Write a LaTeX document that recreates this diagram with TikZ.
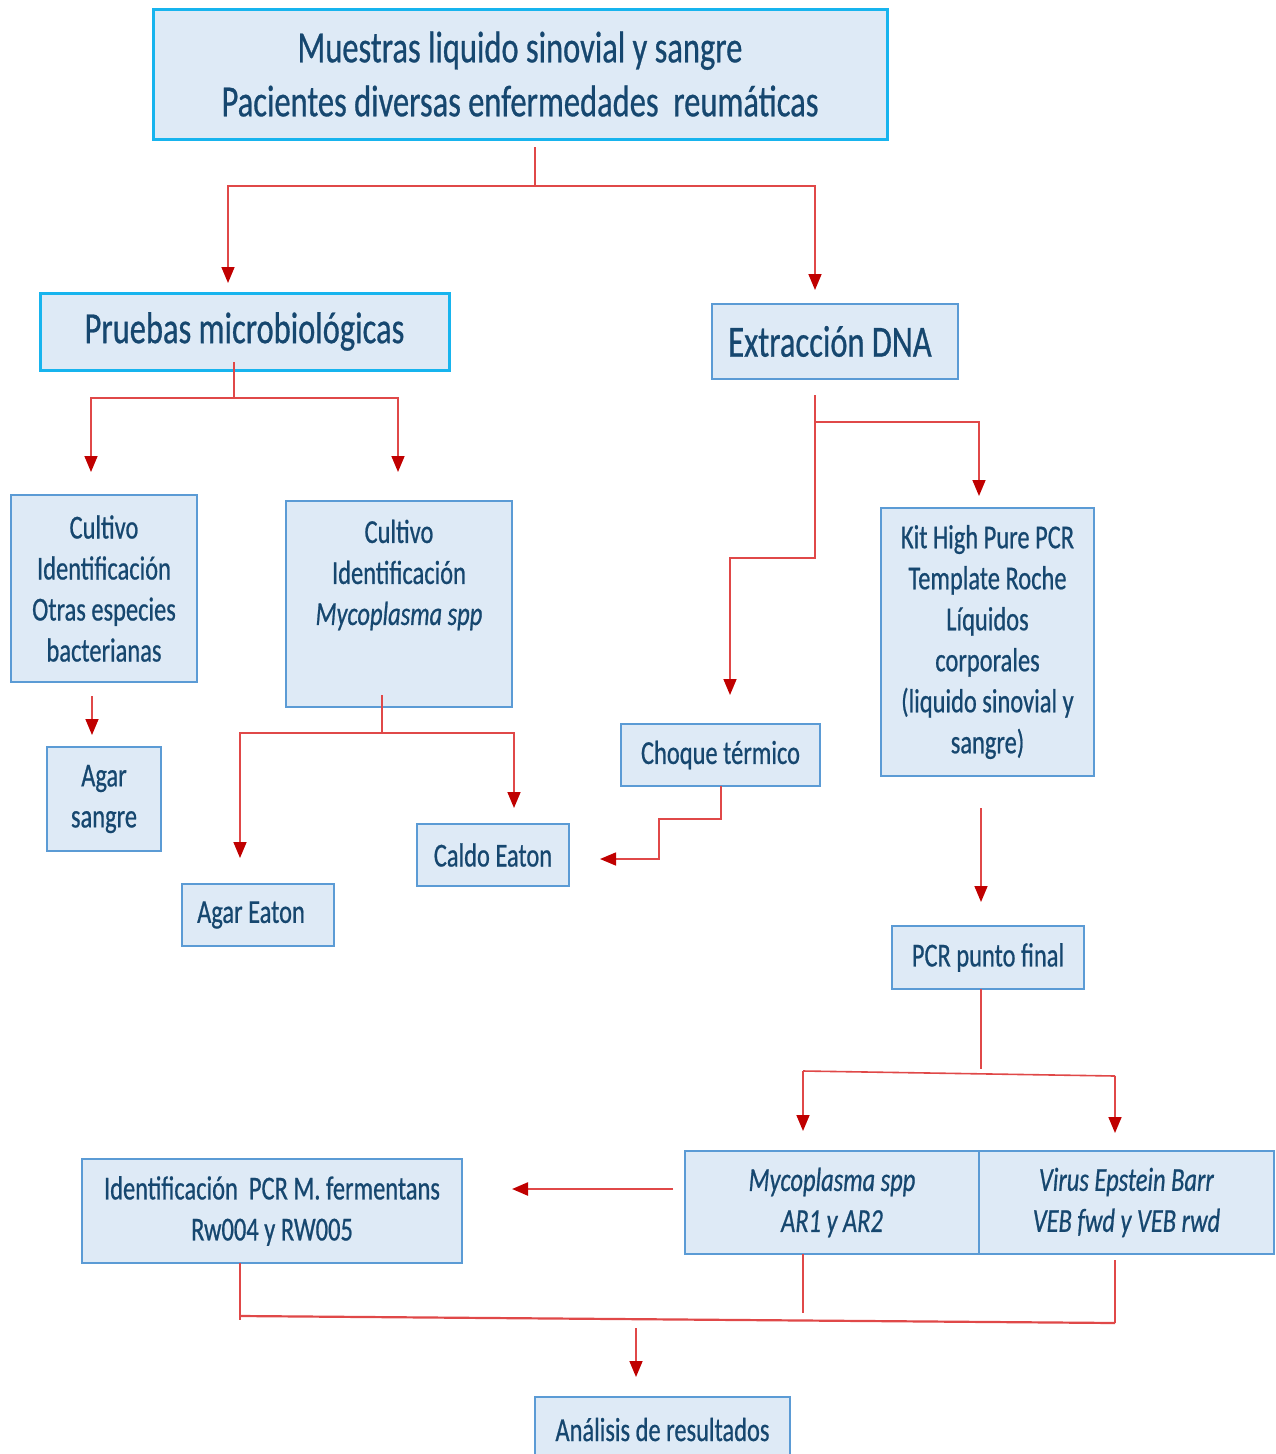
\documentclass[tikz,border=0pt]{standalone}
\usepackage{fontspec}
\setmainfont[FakeStretch=0.73,FakeBold=0.6]{Carlito}
\usetikzlibrary{arrows.meta}
\definecolor{txtc}{HTML}{16476F}
\definecolor{bfill}{HTML}{DEEAF6}
\definecolor{bbord}{HTML}{5B9BD5}
\definecolor{cbord}{HTML}{17B4EE}
\definecolor{lred}{HTML}{E04848}
\definecolor{dred}{HTML}{C00000}
\newcommand{\mkbox}[7]{\node[box,#6,minimum width={#4-#2},minimum height={#5-#3}] (#1) at ({(#2+#4)/2},{(#3+#5)/2}) {#7};}
\begin{document}
\begin{tikzpicture}[x=1pt,y=-1pt,
  box/.style={draw=bbord,fill=bfill,line width=2.4pt,text=txtc,align=center,inner sep=0pt,font=\fontsize{33.5}{41}\selectfont},
  cyanbox/.style={draw=cbord,line width=3pt,font=\fontsize{44.5}{54}\selectfont},
  bigtext/.style={font=\fontsize{44.5}{54}\selectfont},
  lbl/.style={text=txtc,align=center,inner sep=0pt,font=\fontsize{33.5}{41}\selectfont},
  ln/.style={draw=lred,line width=1.6pt},
  arr/.style={ln,-{Triangle[length=16pt,width=13pt,color=dred]}}]
\useasboundingbox (0,0) rectangle (1276,1454);
\fill[white] (0,0) rectangle (1276,1454);

% boxes
\mkbox{top}{153}{9}{887}{139}{cyanbox}{Muestras liquido sinovial y sangre\\Pacientes diversas enfermedades\ \ reumáticas}
\mkbox{pm}{40}{293}{449}{370}{cyanbox}{Pruebas microbiológicas}
\mkbox{ex}{712}{304}{958}{379}{bigtext}{Extracción DNA\hspace{10pt}}
\mkbox{cl}{11}{495}{197}{682}{}{Cultivo\\Identificación\\Otras especies\\bacterianas}
\mkbox{cm}{286}{501}{512}{707}{}{}
\node[lbl] (cmt) at (399,575) {Cultivo\\Identificación\\\textit{Mycoplasma spp}};
\mkbox{as}{47}{747}{161}{851}{}{Agar\\sangre}
\mkbox{ae}{182}{884}{334}{946}{}{Agar Eaton\hspace{14pt}}
\mkbox{ce}{417}{824}{569}{886}{}{Caldo Eaton}
\mkbox{ch}{621}{724}{820}{786}{}{Choque térmico}
\mkbox{kit}{881}{508}{1094}{776}{}{Kit High Pure PCR\\Template Roche\\Líquidos\\corporales\\(liquido sinovial y\\sangre)}
\mkbox{pcr}{892}{926}{1084}{989}{}{PCR punto final}
\mkbox{myc}{685}{1151}{979}{1254}{}{\textit{Mycoplasma spp}\\\textit{AR1 y AR2}}
\mkbox{veb}{979}{1151}{1274}{1254}{}{\textit{Virus Epstein Barr}\\\textit{VEB fwd y VEB rwd}}
\mkbox{idf}{82}{1159}{462}{1263}{}{Identificación\ \ PCR M. fermentans\\Rw004 y RW005}
\mkbox{an}{535}{1397}{790}{1462}{}{Análisis de resultados}

% connector points
\coordinate (t0) at (535,147);
\coordinate (tj) at (535,186);
\coordinate (pmin) at (228,283);
\coordinate (exin) at (815,290);
\coordinate (p0) at (234,362);
\coordinate (pj) at (234,398);
\coordinate (clin) at (91,472);
\coordinate (cmin) at (398,472);
\coordinate (cl0) at (92,696);
\coordinate (asin) at (92,735);
\coordinate (cm0) at (382,695);
\coordinate (cmj) at (382,733);
\coordinate (aein) at (240,858);
\coordinate (cein) at (514,808);
\coordinate (ex0) at (815,395);
\coordinate (exj) at (815,422);
\coordinate (kitin) at (979,496);
\coordinate (exk) at (815,558);
\coordinate (chin) at (730,695);
\coordinate (ch0) at (721,786);
\coordinate (chj) at (721,819);
\coordinate (chk) at (659,859);
\coordinate (cein2) at (600,859);
\coordinate (kit0) at (981,808);
\coordinate (pcrin) at (981,902);
\coordinate (pcr0) at (981,989);
\coordinate (pcrj) at (981,1069);
\coordinate (hl) at (803,1071);
\coordinate (hr) at (1115,1076);
\coordinate (mycin) at (803,1131);
\coordinate (vebin) at (1115,1133);
\coordinate (myc1) at (673,1189);
\coordinate (idfin) at (512,1189);
\coordinate (idf0) at (240,1263);
\coordinate (idf1) at (240,1320);
\coordinate (bl) at (240,1316);
\coordinate (myc0) at (803,1254);
\coordinate (myc2) at (803,1313);
\coordinate (veb0) at (1115,1260);
\coordinate (br) at (1115,1323);
\coordinate (an0) at (636,1328);
\coordinate (anin) at (636,1377);

% connectors
\draw[ln] (t0) -- (tj);
\draw[arr] (tj) -| (pmin);
\draw[arr] (tj) -| (exin);
\draw[ln] (p0) -- (pj);
\draw[arr] (pj) -| (clin);
\draw[arr] (pj) -| (cmin);
\draw[arr] (cl0) -- (asin);
\draw[ln] (cm0) -- (cmj);
\draw[arr] (cmj) -| (aein);
\draw[arr] (cmj) -| (cein);
\draw[ln] (ex0) -- (exj);
\draw[arr] (exj) -| (kitin);
\draw[arr] (exj) -- (exk) -| (chin);
\draw[arr] (ch0) -- (chj) -| (chk) -- (cein2);
\draw[arr] (kit0) -- (pcrin);
\draw[ln] (pcr0) -- (pcrj);
\draw[ln] (hl) -- (hr);
\draw[arr] (hl) -- (mycin);
\draw[arr] (hr) -- (vebin);
\draw[arr,line width=2.2pt] (myc1) -- (idfin);
\draw[ln] (idf0) -- (idf1);
\draw[ln] (myc0) -- (myc2);
\draw[ln] (veb0) -- (br);
\draw[ln,line width=2.2pt] (bl) -- (br);
\draw[arr] (an0) -- (anin);
\end{tikzpicture}
\end{document}
